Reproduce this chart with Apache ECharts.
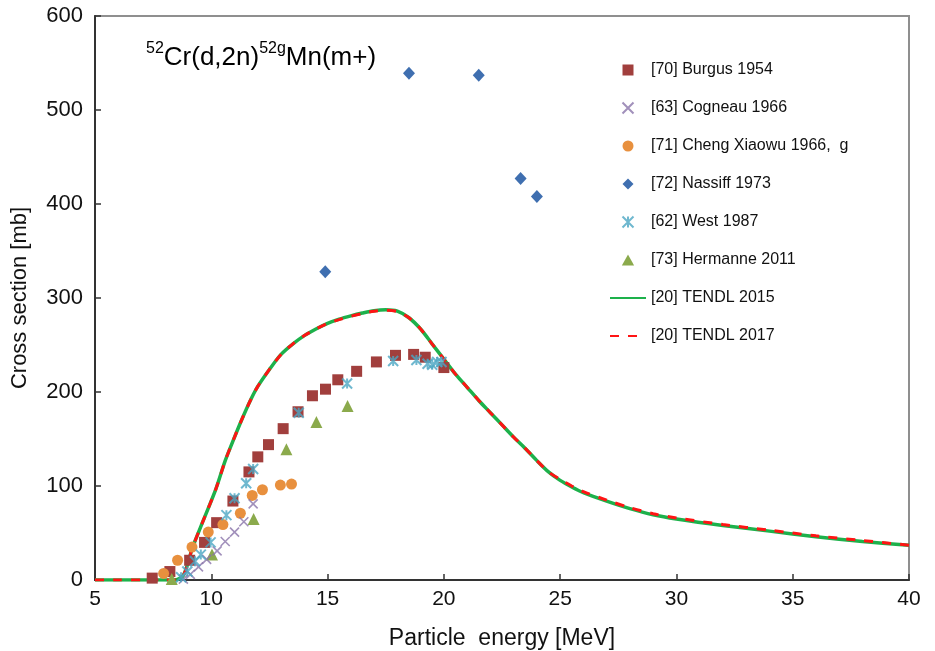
<!DOCTYPE html>
<html>
<head>
<meta charset="utf-8">
<script src="https://cdn.jsdelivr.net/npm/echarts@6/dist/echarts.min.js"></script>
<style>html,body{margin:0;padding:0;background:#fff;}#c{width:935px;height:651px;}</style>
</head>
<body>
<div id="c"></div>
<script>
const xTicks = [5, 10, 15, 20, 25, 30, 35, 40];
const yTicks = [0, 100, 200, 300, 400, 500, 600];

const burgus = [[7.46,2],[8.22,9],[9.07,21],[9.71,40],[10.23,61],[10.93,84],[11.62,115],[12.0,131],[12.46,144],[13.09,161],[13.73,179],[14.35,196],[14.91,203],[15.44,213],[16.25,222],[17.1,232],[17.92,239],[18.7,240],[19.2,237],[20.0,226]];
const cogneau = [[8.8,1],[9.1,6],[9.45,14],[9.8,22],[10.25,31],[10.6,41],[11.0,51],[11.4,62],[11.8,81]];
const cheng = [[7.95,7],[8.55,21],[9.17,35],[9.87,51],[10.5,59],[11.25,71],[11.76,90],[12.2,96],[12.97,101],[13.45,102]];
const nassiff = [[14.9,328],[18.5,539],[21.5,537],[23.3,427],[24.0,408]];
const west = [[8.7,3],[8.97,9],[9.3,20],[9.55,27],[9.97,40],[10.65,69],[11.0,87],[11.5,103],[11.8,118],[13.76,178],[15.84,209],[17.82,233],[18.82,234],[19.3,230],[19.5,229],[19.71,232],[19.9,232]];
const hermanne = [[8.3,1],[10.03,27],[11.82,65],[13.23,139],[14.52,168],[15.86,185]];
const tendl2015 = [[5,0],[6,0],[7,0],[8,0],[8.4,0],[8.8,5],[9.2,35],[9.7,66],[10.2,97],[10.6,127],[11.0,152],[11.3,170],[11.7,192],[12.0,206],[12.5,224],[13.0,240],[13.5,251],[14.0,260],[14.5,267],[15,273],[15.5,277.5],[16,281],[16.5,284],[17,286.5],[17.5,287.5],[18,286],[18.5,279],[19,267],[19.5,251],[20,235],[20.5,219],[21,205],[21.5,191],[22,178],[22.5,165],[23,152],[23.5,140],[24,127],[24.5,115],[25,106],[25.5,99],[26,93],[27,84],[28,76],[29,69.5],[30,65],[32,58],[34,52],[36,46],[38,41],[40,37]];
const tendl2017 = [[5,0],[6,0],[7,0],[8,0],[8.4,0],[8.8,5],[9.2,35],[9.7,66],[10.2,97],[10.6,127],[11.0,152],[11.3,170],[11.7,192],[12.0,206],[12.5,224],[13.0,240],[13.5,251],[14.0,260],[14.5,267],[15,273],[15.5,277],[16,280.5],[16.5,283.5],[17,286],[17.5,287],[18,285.5],[18.5,279],[19,267],[19.5,251],[20,235],[20.5,219],[21,205],[21.5,191],[22,178],[22.5,165],[23,152],[23.5,140],[24,127],[24.5,115],[25,107],[25.5,100],[26,94],[27,85],[28,77],[29,70.5],[30,66],[32,59],[34,53],[36,47],[38,42],[40,37]];

const FONT = 'Liberation Sans, Arial, sans-serif';
const chart = echarts.init(document.getElementById('c'));
const xPath = 'path://M0,0L10,10M10,0L0,10';
const starPath = 'path://M0,0L10,10M10,0L0,10M5,0L5,10';
const sqPath = 'path://M0,0L10,0L10,10L0,10Z';
const diaPath = 'path://M5,0L10,5L5,10L0,5Z';
const triPath = 'path://M5,0L10,9L0,9Z';

chart.setOption({
  animation: false,
  backgroundColor: '#fff',
  textStyle: {fontFamily: FONT},
  grid: {left: 95, right: 26, top: 16, bottom: 71, show: true, borderColor: '#8f8f8f', borderWidth: 2,
         containLabel: false, outerBoundsMode: 'none'},
  title: {
    left: 141, top: 36,
    text: '{s|52}{n|Cr(d,2n)}{s|52g}{n|Mn(m+)}',
    textStyle: {
      fontWeight: 'normal',
      rich: {
        n: {fontFamily: FONT, fontSize: 26, fontWeight: 'normal', color: '#000', lineHeight: 30, verticalAlign: 'bottom'},
        s: {fontFamily: FONT, fontSize: 16, fontWeight: 'normal', color: '#000', lineHeight: 30, verticalAlign: 'top'}
      }
    }
  },
  legend: {
    orient: 'vertical', left: 609, top: 62, itemWidth: 36, itemHeight: 11, itemGap: 22,
    padding: 0,
    textStyle: {fontFamily: FONT, fontSize: 16, color: '#111', lineHeight: 16},
    data: [
      {name: '[70] Burgus 1954', icon: sqPath},
      {name: '[63] Cogneau 1966'},
      {name: '[71] Cheng Xiaowu 1966,  g'},
      {name: '[72] Nassiff 1973', icon: diaPath},
      {name: '[62] West 1987'},
      {name: '[73] Hermanne 2011', icon: triPath},
      {name: '[20] TENDL 2015', itemStyle: {opacity: 0}},
      {name: '[20] TENDL 2017', itemStyle: {opacity: 0}}
    ]
  },
  xAxis: {
    type: 'value', min: 5, max: 40, interval: 5,
    name: 'Particle  energy [MeV]', nameLocation: 'middle', nameGap: 47,
    nameTextStyle: {fontFamily: FONT, fontSize: 23, color: '#111'},
    axisLine: {lineStyle: {color: '#333', width: 2}},
    axisTick: {inside: true, length: 6, lineStyle: {color: '#333', width: 1.5}},
    axisLabel: {fontFamily: FONT, fontSize: 21, color: '#111', margin: 9},
    splitLine: {show: false}
  },
  yAxis: {
    type: 'value', min: 0, max: 600, interval: 100,
    name: 'Cross section [mb]', nameLocation: 'middle', nameGap: 64,
    nameTextStyle: {fontFamily: FONT, fontSize: 22, color: '#111'},
    axisLine: {show: true, lineStyle: {color: '#333', width: 2}},
    axisTick: {show: true, inside: true, length: 6, lineStyle: {color: '#333', width: 1.5}},
    axisLabel: {fontFamily: FONT, fontSize: 22, color: '#111', margin: 12},
    splitLine: {show: false}
  },
  series: [
    {name: '[20] TENDL 2015', type: 'line', data: tendl2015, smooth: 0.3, showSymbol: false, symbol: 'none', z: 2,
     lineStyle: {color: '#1DB14B', width: 3.5}, itemStyle: {color: '#1DB14B'}},
    {name: '[20] TENDL 2017', type: 'line', data: tendl2017, smooth: 0.3, showSymbol: false, symbol: 'none', z: 3,
     lineStyle: {color: '#FF1414', width: 3, type: [9, 9]}, itemStyle: {color: '#FF1414'}},
    {name: '[70] Burgus 1954', type: 'scatter', data: burgus, symbol: 'rect', symbolSize: 11, z: 4,
     itemStyle: {color: '#A13F3D', opacity: 1}},
    {name: '[63] Cogneau 1966', type: 'scatter', data: cogneau, symbol: xPath, symbolSize: 9, z: 5,
     itemStyle: {color: '#8A74AA', borderColor: '#8A74AA', borderWidth: 1.6}},
    {name: '[71] Cheng Xiaowu 1966,  g', type: 'scatter', data: cheng, symbol: 'circle', symbolSize: 11, z: 4,
     itemStyle: {color: '#E8903E', opacity: 1}},
    {name: '[72] Nassiff 1973', type: 'scatter', data: nassiff, symbol: 'diamond', symbolSize: [12, 13], z: 4,
     itemStyle: {color: '#3F6FB0', opacity: 1}},
    {name: '[62] West 1987', type: 'scatter', data: west, symbol: starPath, symbolSize: 10, z: 6,
     itemStyle: {color: '#4BA6C3', borderColor: '#4BA6C3', borderWidth: 2}},
    {name: '[73] Hermanne 2011', type: 'scatter', data: hermanne, symbol: 'triangle', symbolSize: 12, z: 4,
     itemStyle: {color: '#8BAA4C', opacity: 1}}
  ]
});
</script>
</body>
</html>
